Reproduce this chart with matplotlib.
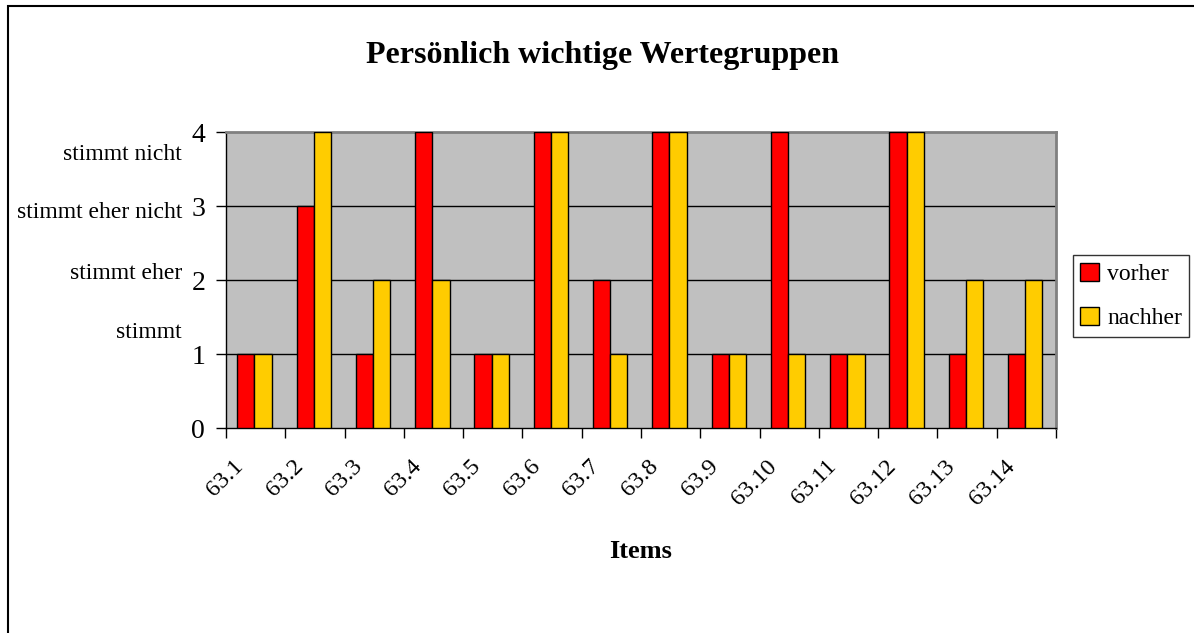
import matplotlib

matplotlib.use("Agg")
import matplotlib.pyplot as plt
import numpy as np
from matplotlib.patches import Rectangle

items = ["63.1", "63.2", "63.3", "63.4", "63.5", "63.6", "63.7",
         "63.8", "63.9", "63.10", "63.11", "63.12", "63.13", "63.14"]
vorher = [1, 3, 1, 4, 1, 4, 2, 4, 1, 4, 1, 4, 1, 1]
nachher = [1, 4, 2, 2, 1, 4, 1, 4, 1, 1, 1, 4, 2, 2]
scale_labels = ["stimmt", "stimmt eher", "stimmt eher nicht", "stimmt nicht"]
scale_pos = [1.29, 2.09, 2.91, 3.69]

plt.rcParams["font.family"] = ["Liberation Serif", "DejaVu Serif"]

fig = plt.figure(figsize=(11.94, 6.33), dpi=100)
ax = fig.add_axes([226 / 1194, 1 - 428 / 633, 830 / 1194, 296 / 633])

x = np.arange(len(items))
bar_w = 0.29
ax.bar(x + 0.48 - bar_w / 2, vorher, width=bar_w, color="#FF0000",
       edgecolor="black", linewidth=1, label="vorher", zorder=3)
ax.bar(x + 0.48 + bar_w / 2, nachher, width=bar_w, color="#FFCC00",
       edgecolor="black", linewidth=1, label="nachher", zorder=3)

ax.set_facecolor("#C0C0C0")
ax.set_xlim(0, len(items))
ax.set_ylim(0, 4)
ax.set_yticks([0, 1, 2, 3, 4])
ax.tick_params(axis="y", labelsize=20, direction="out", length=7, width=1, pad=8)
for y in [1, 2, 3]:
    ax.axhline(y, color="black", linewidth=1, zorder=1)

# tick marks sit on the category boundaries, labels go under the categories
ax.set_xticks(np.arange(len(items) + 1))
ax.set_xticklabels([])
ax.tick_params(axis="x", which="major", direction="out", length=7, width=1)
ax.set_xticks(x + 0.12, minor=True)
ax.set_xticklabels(items, minor=True, rotation=45, ha="right",
                   rotation_mode="anchor", fontsize=17.5)
ax.tick_params(axis="x", which="minor", length=0, pad=20)

for side in ["top", "right"]:
    ax.spines[side].set_color("#808080")
    ax.spines[side].set_linewidth(2)
for side in ["left", "bottom"]:
    ax.spines[side].set_color("black")
    ax.spines[side].set_linewidth(1)

for label, pos in zip(scale_labels, scale_pos):
    ax.text(-0.053, pos, label, transform=ax.get_yaxis_transform(),
            ha="right", va="center", fontsize=17)

fig.text(0.505, 1 - 55 / 633, "Persönlich wichtige Wertegruppen",
         ha="center", va="center", fontsize=23, fontweight="bold")
fig.text(641 / 1194, 1 - 551 / 633, "Items",
         ha="center", va="center", fontsize=19, fontweight="bold")

fig.legend(loc="center left", bbox_to_anchor=(1073 / 1194, 1 - 296 / 633),
           frameon=True, fancybox=False, edgecolor="black", fontsize=17,
           handlelength=0.8, handleheight=0.8, handletextpad=0.35,
           borderpad=0.3, borderaxespad=0, labelspacing=0.95)

fig.patches.append(Rectangle((8 / 1194, -0.1), 1.1, 1.1 - 6.5 / 633,
                             transform=fig.transFigure, fill=False,
                             edgecolor="black", linewidth=1.5))

fig.savefig("out.png", dpi=100)
